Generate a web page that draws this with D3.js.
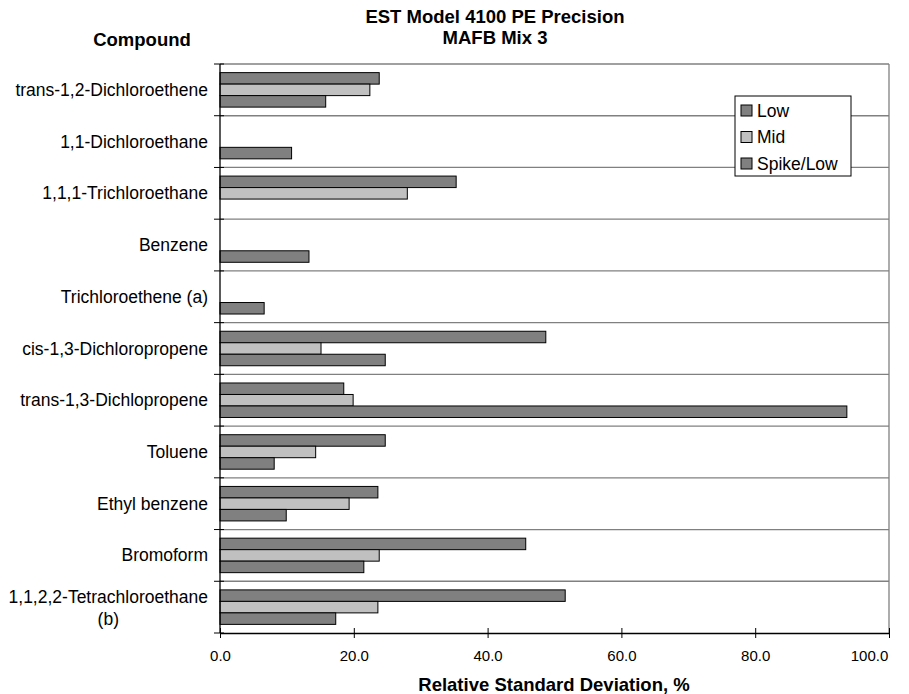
<!DOCTYPE html>
<html><head><meta charset="utf-8">
<script src="https://cdn.jsdelivr.net/npm/d3@7"></script>
<style>body{margin:0;background:#fff;} svg{display:block;font-family:"Liberation Sans",Arial,sans-serif;}</style>
</head><body>
<svg id="chart" width="909" height="694"></svg>
<script>
const categories = ["trans-1,2-Dichloroethene","1,1-Dichloroethane","1,1,1-Trichloroethane","Benzene","Trichloroethene (a)","cis-1,3-Dichloropropene","trans-1,3-Dichlopropene","Toluene","Ethyl benzene","Bromoform","1,1,2,2-Tetrachloroethane\n(b)"];
const seriesNames = ["Low","Mid","Spike/Low"];
const lowValues   = [23.8, null, 35.3, null, null, 48.7, 18.5, 24.7, 23.6, 45.7, 51.6];
const midValues   = [22.4, null, 28.0, null, null, 15.1, 19.9, 14.3, 19.3, 23.8, 23.6];
const spikeValues = [15.8, 10.7, null, 13.3, 6.6, 24.7, 93.7, 8.1, 9.9, 21.5, 17.3];
const xTicks = [0,20,40,60,80,100];
const seriesColors = ["#808080","#c0c0c0","#808080"];

const svg = d3.select("#chart");
const L=220, R=889, T=64, B=633;
const x = d3.scaleLinear().domain([0,100]).range([L,R]);
const y = d3.scaleBand().domain(categories).range([T,B]).padding(0);
const yi = d3.scaleBand().domain(seriesNames).range([0,y.bandwidth()]).paddingInner(0).paddingOuter(0.75);
const allSeries = [lowValues, midValues, spikeValues];

// gridlines (category boundaries)
const bounds = categories.map(c=>y(c)).concat([B]);
svg.append("g").selectAll("line").data(bounds.slice(0,-1)).join("line")
  .attr("x1",L).attr("x2",R).attr("y1",d=>d).attr("y2",d=>d)
  .attr("stroke","#808080").attr("stroke-width",1.3);
svg.append("line").attr("x1",R).attr("x2",R).attr("y1",T).attr("y2",B).attr("stroke","#808080").attr("stroke-width",1.3);

// bars
const barData = [];
categories.forEach((c,i)=>seriesNames.forEach((s,j)=>{const v=allSeries[j][i]; if(v!=null) barData.push({c,s,v,j});}));
svg.append("g").selectAll("rect").data(barData).join("rect")
  .attr("x",x(0)).attr("y",d=>y(d.c)+yi(d.s))
  .attr("width",d=>x(d.v)-x(0)).attr("height",yi.bandwidth())
  .attr("fill",d=>seriesColors[d.j]).attr("stroke","#000").attr("stroke-width",1);

// x axis
const xAxis = svg.append("g").attr("transform",`translate(0,${B})`)
  .call(d3.axisBottom(x).tickValues(xTicks).tickFormat(d3.format(".1f")).tickSize(5).tickSizeOuter(0));
xAxis.select(".domain").attr("stroke","#000").attr("stroke-width",1.3);
xAxis.selectAll(".tick line").attr("y1",-5).attr("y2",5).attr("stroke","#000");
xAxis.selectAll(".tick text").attr("y",17).attr("font-size",15).attr("font-family","Liberation Sans, Arial, sans-serif").attr("fill","#000");
xAxis.selectAll(".tick text").filter(d=>d===100).attr("text-anchor","end").attr("dx",0).attr("x",0).attr("transform","translate(0,0)");
xAxis.selectAll(".tick text").filter(d=>d===100).attr("text-anchor","middle").attr("x",-20);

// y axis line & ticks
svg.append("line").attr("x1",L).attr("x2",L).attr("y1",T).attr("y2",B).attr("stroke","#000").attr("stroke-width",1.3);
svg.append("g").selectAll("line").data(bounds).join("line")
  .attr("x1",L-6).attr("x2",L+4).attr("y1",d=>d).attr("y2",d=>d).attr("stroke","#000").attr("stroke-width",1);

// category labels
const labG = svg.append("g").attr("font-size",17.5).attr("fill","#000");
categories.forEach(c=>{
  const lines = c.split("\n");
  const cy = y(c)+y.bandwidth()/2;
  if(lines.length===1){
    labG.append("text").attr("x",208).attr("y",cy+6).attr("text-anchor","end").text(c);
  } else {
    const t1 = labG.append("text").attr("x",208).attr("y",cy-4).attr("text-anchor","end").text(lines[0]);
    const w = t1.node().getComputedTextLength();
    labG.append("text").attr("x",208-w/2).attr("y",cy+18).attr("text-anchor","middle").text(lines[1]);
  }
});

// titles
svg.append("text").attr("x",495).attr("y",23).attr("text-anchor","middle").attr("font-size",18.5).attr("font-weight","bold").text("EST Model 4100 PE Precision");
svg.append("text").attr("x",495).attr("y",44).attr("text-anchor","middle").attr("font-size",18.5).attr("font-weight","bold").text("MAFB  Mix 3");
svg.append("text").attr("x",142).attr("y",46).attr("text-anchor","middle").attr("font-size",18.5).attr("font-weight","bold").text("Compound");
svg.append("text").attr("x",554).attr("y",691).attr("text-anchor","middle").attr("font-size",18.5).attr("font-weight","bold").text("Relative Standard Deviation, %");

// legend
const lg = svg.append("g").attr("transform","translate(735,96)");
lg.append("rect").attr("width",116).attr("height",80).attr("fill","#fff").attr("stroke","#000").attr("stroke-width",1);
seriesNames.forEach((s,i)=>{
  const row = lg.append("g").attr("transform",`translate(6,${14.5+i*26.5})`);
  row.append("rect").attr("x",0).attr("y",-5.5).attr("width",11).attr("height",11).attr("fill",seriesColors[i]).attr("stroke","#000").attr("stroke-width",1);
  row.append("text").attr("x",16).attr("y",6).attr("font-size",17.5).text(s);
});
</script>
</body></html>
